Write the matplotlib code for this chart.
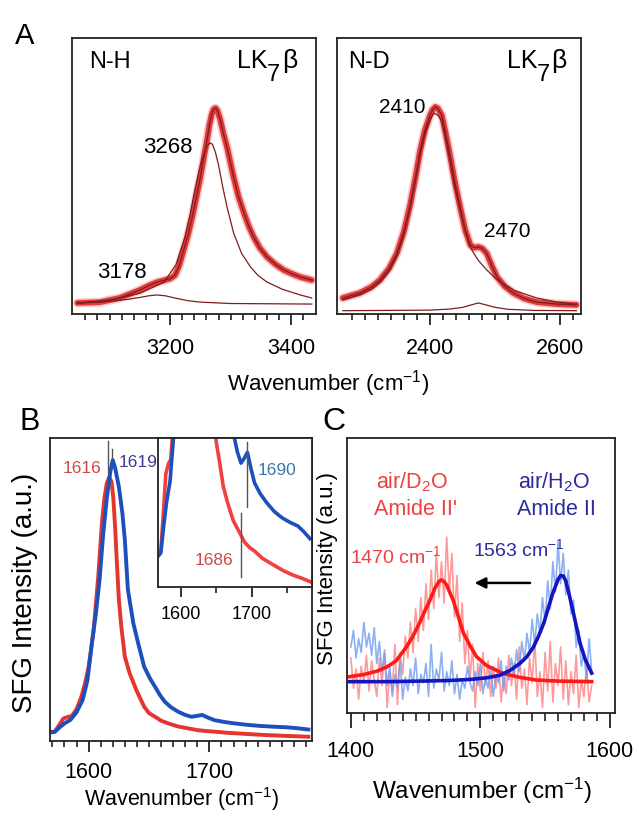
import matplotlib
matplotlib.use('Agg')
import matplotlib.pyplot as plt
from matplotlib.ticker import FixedLocator, NullLocator

plt.rcParams['font.family'] = ['Liberation Sans', 'DejaVu Sans']
plt.rcParams['mathtext.fontset'] = 'custom'
plt.rcParams['mathtext.rm'] = 'Liberation Sans'
plt.rcParams['mathtext.it'] = 'Liberation Sans:italic'
plt.rcParams['mathtext.bf'] = 'Liberation Sans:bold'

# ---------------- Panel A (N-H) ----------------
nh_wn = [3047, 3084, 3117, 3150, 3165, 3178, 3190, 3200, 3208, 3215, 3221, 3230, 3238, 3244,
         3250, 3256, 3261, 3265, 3269, 3272, 3275, 3278, 3283, 3288, 3294, 3300, 3305, 3313,
         3322, 3330, 3338, 3348, 3360, 3374, 3388, 3402, 3415, 3434]
nh_total = [0.040, 0.043, 0.058, 0.087, 0.103, 0.115, 0.122, 0.128, 0.14, 0.175, 0.221, 0.29,
            0.366, 0.43, 0.496, 0.57, 0.630, 0.685, 0.725, 0.742, 0.746, 0.738, 0.703, 0.655,
            0.605, 0.545, 0.496, 0.425, 0.366, 0.318, 0.279, 0.24, 0.207, 0.18, 0.159, 0.145,
            0.134, 0.123]
nh_main_wn = [3047, 3100, 3150, 3190, 3210, 3224, 3233, 3240, 3248, 3255, 3261, 3266, 3270,
              3275, 3280, 3287, 3294, 3305, 3318, 3333, 3345, 3360, 3385, 3415, 3434]
nh_main = [0.040, 0.050, 0.075, 0.115, 0.18, 0.275, 0.36, 0.44, 0.52, 0.575, 0.608, 0.620,
           0.615, 0.585, 0.54, 0.46, 0.388, 0.293, 0.22, 0.170, 0.14, 0.116, 0.09, 0.069, 0.058]
nh_small_wn = [3047, 3100, 3130, 3150, 3165, 3178, 3192, 3210, 3230, 3250, 3300, 3434]
nh_small = [0.040, 0.046, 0.053, 0.060, 0.066, 0.069, 0.066, 0.057, 0.048, 0.043, 0.038, 0.036]

# ---------------- Panel A (N-D) ----------------
nd_wn = [2266, 2292, 2310, 2323, 2337, 2349, 2360, 2369, 2378, 2385, 2392, 2400, 2404, 2408,
         2412, 2418, 2424, 2431, 2438, 2446, 2454, 2462, 2468, 2474, 2480, 2487, 2495, 2503,
         2515, 2528, 2545, 2564, 2595, 2625]
nd_total = [0.058, 0.076, 0.098, 0.123, 0.165, 0.22, 0.30, 0.39, 0.50, 0.594, 0.665, 0.72,
            0.74, 0.75, 0.745, 0.72, 0.655, 0.57, 0.48, 0.39, 0.305, 0.25, 0.24, 0.243, 0.238,
            0.22, 0.175, 0.134, 0.10, 0.076, 0.056, 0.043, 0.036, 0.033]
nd_main_wn = [2266, 2292, 2310, 2323, 2337, 2349, 2360, 2369, 2378, 2385, 2392, 2400, 2406,
              2412, 2418, 2424, 2431, 2438, 2446, 2454, 2462, 2474, 2487, 2500, 2511, 2530,
              2564, 2595, 2625]
nd_main = [0.051, 0.07, 0.09, 0.115, 0.155, 0.21, 0.29, 0.38, 0.49, 0.58, 0.65, 0.705, 0.728,
           0.72, 0.70, 0.635, 0.55, 0.46, 0.38, 0.30, 0.24, 0.195, 0.16, 0.13, 0.112, 0.085,
           0.058, 0.043, 0.035]
nd_small_wn = [2266, 2400, 2430, 2450, 2462, 2474, 2486, 2500, 2520, 2560, 2625]
nd_small = [0.012, 0.014, 0.018, 0.024, 0.032, 0.040, 0.033, 0.024, 0.017, 0.013, 0.012]

# ---------------- Panel B ----------------
b_red_wn = [1568, 1572, 1576, 1579, 1583, 1586, 1590, 1594, 1597, 1600, 1604, 1608, 1611, 1613,
            1615, 1617, 1619, 1620.5, 1622, 1623.5, 1625, 1627, 1630, 1634, 1639.5, 1646, 1650,
            1655, 1660, 1666, 1674, 1682, 1690, 1697, 1704, 1715, 1732, 1745, 1759, 1770, 1782]
b_red = [0.030, 0.031, 0.055, 0.074, 0.080, 0.082, 0.105, 0.146, 0.19, 0.245, 0.360, 0.545,
         0.72, 0.80, 0.85, 0.87, 0.855, 0.80, 0.70, 0.58, 0.47, 0.38, 0.278, 0.223, 0.168, 0.113,
         0.092, 0.080, 0.067, 0.058, 0.048, 0.042, 0.036, 0.033, 0.031, 0.027, 0.023, 0.020,
         0.0175, 0.016, 0.014]
b_blue_wn = [1568, 1572, 1576, 1580, 1585, 1590, 1595, 1599, 1603, 1606, 1609, 1612, 1615, 1618,
             1620, 1622, 1625, 1628, 1630, 1632.5, 1637, 1641, 1646, 1651, 1655, 1659, 1663,
             1668, 1674, 1680, 1685, 1690, 1694, 1699, 1704, 1712, 1721, 1732, 1743, 1754,
             1765, 1773, 1782]
b_blue = [0.028, 0.030, 0.045, 0.058, 0.070, 0.095, 0.135, 0.20, 0.333, 0.42, 0.53, 0.68, 0.80,
          0.89, 0.927, 0.90, 0.84, 0.75, 0.663, 0.50, 0.389, 0.323, 0.245, 0.205, 0.179, 0.152,
          0.13, 0.112, 0.097, 0.086, 0.080, 0.083, 0.086, 0.077, 0.069, 0.063, 0.058, 0.053,
          0.0495, 0.047, 0.045, 0.042, 0.038]

# ---------------- Panel C ----------------
c_noise_wn = [1400 + 2 * i for i in range(94)]
c_red_noise = [0.20, 0.09, 0.16, 0.05, 0.17, 0.11, 0.21, 0.08, 0.19, 0.12, 0.06, 0.20, 0.10, 0.23,
               0.02, 0.15, 0.08, 0.25, 0.03, 0.22, 0.14, 0.28, 0.20, 0.33, 0.22, 0.38, 0.26, 0.42,
               0.30, 0.47, 0.34, 0.52, 0.38, 0.58, 0.42, 0.55, 0.40, 0.64, 0.44, 0.58, 0.35, 0.50,
               0.26, 0.40, 0.18, 0.30, 0.12, 0.25, 0.02, 0.18, 0.08, 0.22, 0.10, 0.19, 0.06, 0.17,
               0.09, 0.20, 0.04, 0.14, 0.07, 0.21, 0.10, 0.18, 0.05, 0.24, 0.09, 0.16, 0.03, 0.20,
               0.11, 0.27, 0.06, 0.15, 0.02, 0.22, 0.08, 0.26, 0.04, 0.18, 0.10, 0.24, 0.05, 0.19,
               0.03, 0.15, 0.07, 0.21, 0.02, 0.12, 0.06, 0.17, 0.04, 0.10]
c_blue_noise = [0.24, 0.30, 0.20, 0.27, 0.22, 0.33, 0.24, 0.29, 0.21, 0.31, 0.18, 0.26, 0.15, 0.22,
                0.10, 0.17, 0.06, 0.14, 0.09, 0.19, 0.05, 0.13, 0.08, 0.16, 0.10, 0.20, 0.07, 0.14,
                0.11, 0.18, 0.06, 0.25, 0.09, 0.16, 0.12, 0.22, 0.08, 0.15, 0.10, 0.19, 0.07, 0.14,
                0.05, 0.12, 0.09, 0.17, 0.11, 0.08, 0.15, 0.10, 0.18, 0.07, 0.13, 0.09, 0.16, 0.06,
                0.14, 0.11, 0.19, 0.08, 0.17, 0.12, 0.20, 0.14, 0.23, 0.15, 0.26, 0.19, 0.29, 0.22,
                0.34, 0.25, 0.36, 0.29, 0.42, 0.33, 0.48, 0.38, 0.55, 0.44, 0.62, 0.47, 0.58, 0.43,
                0.52, 0.36, 0.41, 0.24, 0.30, 0.17, 0.22, 0.12, 0.27, 0.15]
c_red_fit_wn = [1399, 1410, 1420, 1428, 1435, 1443, 1448, 1453, 1457, 1461, 1465, 1468, 1470,
                1472, 1474, 1479, 1483, 1487, 1492, 1497, 1505, 1517, 1530, 1543, 1560, 1586]
c_red_fit = [0.132, 0.140, 0.152, 0.168, 0.19, 0.241, 0.28, 0.327, 0.37, 0.41, 0.455, 0.478,
             0.484, 0.478, 0.465, 0.41, 0.35, 0.29, 0.245, 0.205, 0.172, 0.145, 0.13, 0.12,
             0.116, 0.114]
c_blue_fit_wn = [1399, 1430, 1453, 1475, 1492, 1505, 1515, 1523, 1530.5, 1536, 1541, 1545, 1549,
                 1553, 1556, 1560, 1562, 1564, 1566, 1569, 1573, 1577, 1581, 1586]
c_blue_fit = [0.114, 0.114, 0.116, 0.118, 0.122, 0.128, 0.137, 0.155, 0.18, 0.205, 0.24, 0.28,
              0.327, 0.39, 0.436, 0.485, 0.500, 0.498, 0.48, 0.423, 0.34, 0.254, 0.195, 0.145]

W, H = 639, 816
fig = plt.figure(figsize=(W / 100, H / 100), dpi=100)


def add_ax(x0, y0, x1, y1):
    return fig.add_axes([x0 / W, 1 - y1 / H, (x1 - x0) / W, (y1 - y0) / H])


def ftext(x, y, s, **kw):
    return fig.text(x / W, 1 - y / H, s, **kw)


def style(ax, xlim, ylim, major, minor, lsize=15.5, mlen=8, nlen=4, pad=9):
    ax.set_xlim(*xlim)
    ax.set_ylim(*ylim)
    ax.yaxis.set_major_locator(NullLocator())
    ax.xaxis.set_major_locator(FixedLocator(major))
    ax.xaxis.set_minor_locator(FixedLocator(minor))
    ax.tick_params(axis='x', which='major', direction='out', length=mlen, width=1.3,
                   pad=pad, labelsize=lsize, color='#222222')
    ax.tick_params(axis='x', which='minor', direction='out', length=nlen, width=1.2,
                   color='#222222')
    for s in ax.spines.values():
        s.set_linewidth(1.3)
        s.set_color('#222222')


def lk7b(x_lk, x_7, x_b, y_base):
    ftext(x_lk, y_base, 'LK', fontsize=18, va='baseline')
    ftext(x_7, y_base + 13, '7', fontsize=17, va='baseline')
    ftext(x_b, y_base, 'β', fontsize=19, va='baseline')


DATA_RED = '#e02a2a'
FIT_DARK = '#7e1d1d'

# Panel A left
axA1 = add_ax(72, 38, 316, 314)
axA1.plot(nh_wn, nh_total, color='#f07070', lw=6.5, alpha=0.35, solid_capstyle='round')
axA1.plot(nh_wn, nh_total, color=DATA_RED, lw=4.2, alpha=0.9, solid_capstyle='round')
axA1.plot(nh_wn, nh_total, color=FIT_DARK, lw=0.9)
axA1.plot(nh_main_wn, nh_main, color=FIT_DARK, lw=0.9)
axA1.plot(nh_small_wn, nh_small, color=FIT_DARK, lw=0.9)
style(axA1, (3038, 3441), (0, 1), [3200, 3400], list(range(3060, 3430, 20)))
axA1.text(0.07, 0.891, 'N-H', transform=axA1.transAxes, fontsize=17, va='baseline')
axA1.text(3155, 0.583, '3268', fontsize=16, va='baseline')
axA1.text(3079, 0.130, '3178', fontsize=16, va='baseline')
lk7b(237, 267, 282, 68)

# Panel A right
axA2 = add_ax(337, 38, 581, 314)
axA2.plot(nd_wn, nd_total, color='#f07070', lw=6.5, alpha=0.35, solid_capstyle='round')
axA2.plot(nd_wn, nd_total, color=DATA_RED, lw=4.2, alpha=0.9, solid_capstyle='round')
axA2.plot(nd_wn, nd_total, color=FIT_DARK, lw=0.9)
axA2.plot(nd_main_wn, nd_main, color=FIT_DARK, lw=0.9)
axA2.plot(nd_small_wn, nd_small, color=FIT_DARK, lw=0.9)
style(axA2, (2257, 2632), (0, 1), [2400, 2600], list(range(2280, 2630, 20)))
axA2.text(0.045, 0.891, 'N-D', transform=axA2.transAxes, fontsize=17, va='baseline')
axA2.text(2321.5, 0.728, '2410', fontsize=15, va='baseline')
axA2.text(2483, 0.279, '2470', fontsize=15, va='baseline')
lk7b(507, 537, 551, 68)

ftext(328, 390, r'Wavenumber (cm$^{-1}$)', fontsize=16, ha='center', va='baseline')
ftext(15, 44, 'A', fontsize=21, va='baseline')

# Panel B
B_RED = '#e4352f'
B_BLUE = '#1d4fbd'
axB = add_ax(50, 438, 312, 741)
axB.plot(b_red_wn, b_red, color=B_RED, lw=2.8)
axB.plot(b_blue_wn, b_blue, color=B_BLUE, lw=2.8)
style(axB, (1568, 1785), (0, 1), [1600, 1700], list(range(1570, 1785, 10)), pad=7)
axB.plot([1616, 1616], [0.885, 0.99], color='#555555', lw=1)
axB.plot([1619.5, 1619.5], [0.93, 0.965], color='#555555', lw=1)
axB.text(1610.6, 0.884, '1616', color='#cc4a4a', fontsize=12.5, ha='right', va='baseline')
axB.text(1625, 0.905, '1619', color='#3b3b96', fontsize=12.5, ha='left', va='baseline')

axI = add_ax(158, 438, 312, 587)
axI.plot(b_red_wn, b_red, color='#f04040', lw=2.6)
axI.plot(b_blue_wn, b_blue, color=B_BLUE, lw=2.6)
style(axI, (1568, 1785), (0.011, 0.094), [1600, 1700], [1650, 1750], lsize=13, mlen=7, nlen=4,
      pad=7)
axI.plot([1694, 1694], [0.0556, 0.0917], color='#555555', lw=1)
axI.plot([1685, 1685], [0.0167, 0.0521], color='#555555', lw=1)
axI.text(1709, 0.0732, '1690', color='#3a78b0', fontsize=12.5, va='baseline')
axI.text(1674.3, 0.0232, '1686', color='#d04848', fontsize=12.5, va='baseline', ha='right')

ftext(181.5, 806, r'Wavenumber (cm$^{-1}$)', fontsize=15.5, ha='center', va='baseline')
ftext(25.5, 592.5, 'SFG Intensity (a.u.)', fontsize=20, ha='center', va='center', rotation=90)
ftext(19, 430, 'B', fontsize=22, va='baseline')

# Panel C
axC = add_ax(347, 438, 615, 713)
axC.plot(c_noise_wn, c_red_noise, color='#ff8080', lw=1.2, alpha=0.8)
axC.plot(c_noise_wn, c_blue_noise, color='#6f9cf0', lw=1.2, alpha=0.8)
axC.plot(c_red_fit_wn, c_red_fit, color='#ff1a1a', lw=2.6)
axC.plot(c_blue_fit_wn, c_blue_fit, color='#1414c0', lw=2.6)
style(axC, (1397, 1604), (0, 1), [1400, 1500, 1600], list(range(1400, 1601, 10)), mlen=11,
      nlen=6, pad=9)
RED_T = '#ee4040'
NAVY_T = '#2b2b9e'
axC.text(1447.5, 0.817, r'air/D$_2$O', color=RED_T, fontsize=15.5, ha='center', va='baseline')
axC.text(1450, 0.72, "Amide II'", color=RED_T, fontsize=15.5, ha='center', va='baseline')
axC.text(1556.8, 0.817, r'air/H$_2$O', color=NAVY_T, fontsize=15.5, ha='center', va='baseline')
axC.text(1559, 0.72, 'Amide II', color=NAVY_T, fontsize=15.5, ha='center', va='baseline')
axC.text(1399.2, 0.544, r'1470 cm$^{-1}$', color=RED_T, fontsize=14, va='baseline')
axC.text(1494.2, 0.571, r'1563 cm$^{-1}$', color=NAVY_T, fontsize=14, va='baseline')
axC.annotate('', xy=(1493.4, 0.473), xytext=(1540.5, 0.473),
             arrowprops=dict(arrowstyle='-|>', color='black', lw=1.8, mutation_scale=16))

ftext(482.5, 799, r'Wavenumber (cm$^{-1}$)', fontsize=17.5, ha='center', va='baseline')
ftext(328, 568.5, 'SFG Intensity (a.u.)', fontsize=16, ha='center', va='center', rotation=90)
ftext(322, 430, 'C', fontsize=23, va='baseline')

fig.savefig('out.png', dpi=100)
